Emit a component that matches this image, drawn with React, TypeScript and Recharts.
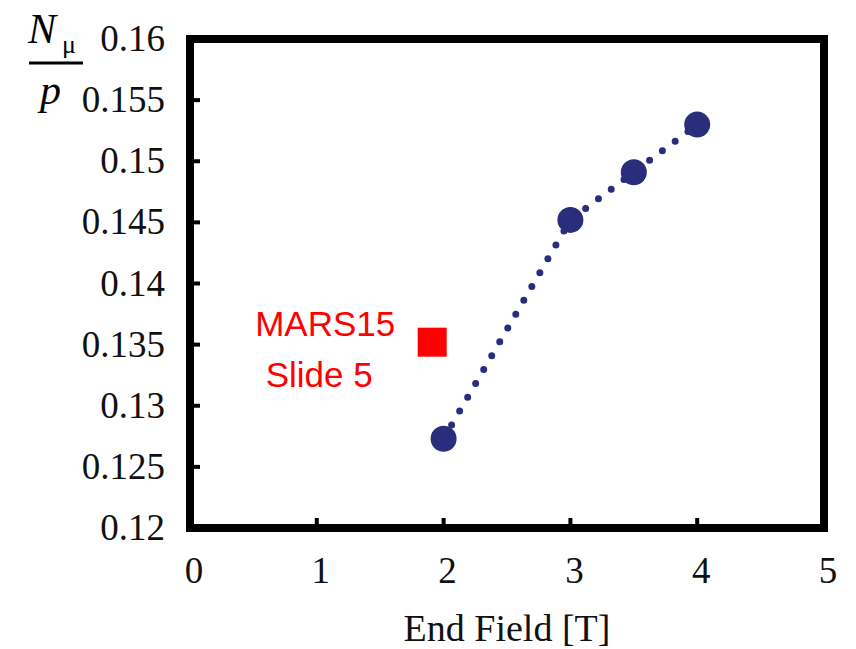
import {
  ComposedChart,
  Line,
  ReferenceArea,
  Scatter,
  XAxis,
  YAxis,
} from "recharts";

const endField = [2, 3, 3.5, 4];
const muonYield = [0.1273, 0.1452, 0.1491, 0.153];
const marsField = [1.91];
const marsYield = [0.1352];
const marsLabel = ["MARS15", "Slide 5"];
const xTicks = [0, 1, 2, 3, 4, 5];
const yTicks = [0.12, 0.125, 0.13, 0.135, 0.14, 0.145, 0.15, 0.155, 0.16];
const xTitle = "End Field [T]";

const navy = "#2a2d7c";
const red = "#ff0000";
const serif = "Liberation Serif";

const lineData = endField.map((x, i) => ({ x, y: muonYield[i] }));
const marsData = marsField.map((x, i) => ({ x, y: marsYield[i] }));

function XTick(props: any) {
  const { x, y, payload } = props;
  return (
    <text
      x={x + 4}
      y={y + 30}
      textAnchor="middle"
      fontFamily={serif}
      fontSize={37}
      fill="#111"
    >
      {String(payload.value)}
    </text>
  );
}

function YTick(props: any) {
  const { x, y, payload } = props;
  return (
    <text
      x={x + 2}
      y={y + 12}
      textAnchor="end"
      fontFamily={serif}
      fontSize={37}
      fill="#111"
    >
      {String(payload.value)}
    </text>
  );
}

function YTitle() {
  return (
    <g fontFamily={serif} fill="#000">
      <text x={28} y={43} fontSize={42} fontStyle="italic">
        N
      </text>
      <text x={62} y={53} fontSize={26}>
        μ
      </text>
      <line x1={29} x2={83} y1={63} y2={63} stroke="#000" strokeWidth={3} />
      <text x={40} y={104} fontSize={42} fontStyle="italic">
        p
      </text>
    </g>
  );
}

function MarsSquare(props: any) {
  const { cx, cy } = props;
  return (
    <g>
      <rect x={cx - 14.5} y={cy - 14.5} width={29} height={29} fill={red} />
      <text
        x={cx - 107}
        y={cy - 6}
        textAnchor="middle"
        fontFamily="'Liberation Sans', Arial, sans-serif"
        fontSize={35}
        fill={red}
      >
        {marsLabel[0]}
      </text>
      <text
        x={cx - 113}
        y={cy + 45}
        textAnchor="middle"
        fontFamily="'Liberation Sans', Arial, sans-serif"
        fontSize={35}
        fill={red}
      >
        {marsLabel[1]}
      </text>
    </g>
  );
}

export default function App() {
  return (
    <div style={{ position: "absolute", left: 0, top: 0, background: "#fff" }}>
      <ComposedChart
        width={856}
        height={649}
        margin={{ top: 39, right: 32, bottom: 0, left: 0 }}
      >
        <XAxis
          type="number"
          dataKey="x"
          domain={[0, 5]}
          ticks={xTicks}
          height={121}
          axisLine={false}
          tickSize={-10}
          tickMargin={35}
          tickLine={{ stroke: "#000", strokeWidth: 4 }}
          tick={<XTick />}
          label={{
            value: xTitle,
            position: "insideBottom",
            offset: 8,
            fill: "#111",
            fontSize: 38,
            fontFamily: serif,
          }}
        />
        <YAxis
          type="number"
          dataKey="y"
          domain={[0.12, 0.16]}
          ticks={yTicks}
          width={190}
          axisLine={false}
          tickSize={-10}
          tickMargin={37}
          tickLine={{ stroke: "#000", strokeWidth: 4 }}
          tick={<YTick />}
          label={{ content: () => <YTitle /> }}
        />
        <ReferenceArea
          x1={0}
          x2={5}
          y1={0.12}
          y2={0.16}
          fill="none"
          stroke="#000"
          strokeWidth={8}
          fillOpacity={0}
          ifOverflow="visible"
        />
        <Line
          data={lineData}
          dataKey="y"
          type="linear"
          stroke={navy}
          strokeWidth={7}
          strokeDasharray="0 16"
          strokeLinecap="round"
          dot={(p: any) => (
            <circle key={p.index} cx={p.cx} cy={p.cy} r={13} fill={navy} />
          )}
          activeDot={false}
          isAnimationActive={false}
        />
        <Scatter
          data={marsData}
          dataKey="y"
          shape={<MarsSquare />}
          isAnimationActive={false}
        />
      </ComposedChart>
    </div>
  );
}
